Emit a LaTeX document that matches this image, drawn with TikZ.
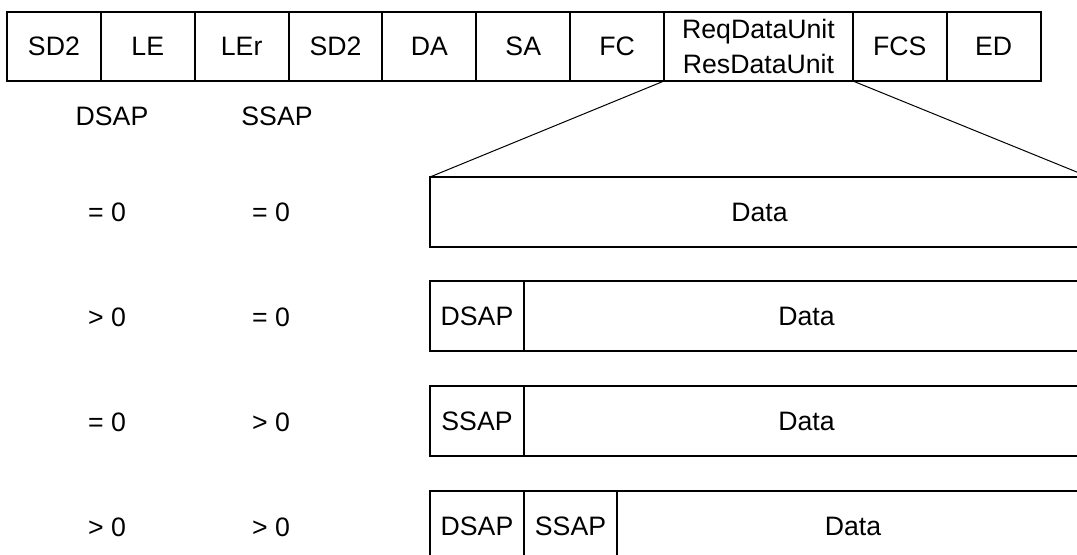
\documentclass[tikz,border=0pt]{standalone}
\usepackage{fontspec}
\setmainfont{Liberation Sans}
\usetikzlibrary{positioning}

\begin{document}
\begin{tikzpicture}[x=0.75pt, y=-0.75pt,
  fld/.style={rectangle, draw=black, line width=1.5pt, inner sep=0pt, outer sep=0pt,
              font=\fontsize{20}{26.25}\selectfont, minimum width=#1,
              minimum height=51.75pt, align=center},
  fld/.default=70.4pt,
  pdu/.style={rectangle, draw=black, line width=1.5pt, inner sep=0pt, outer sep=0pt,
              font=\fontsize{20}{24}\selectfont, minimum width=#1,
              minimum height=52.5pt},
  lb/.style={font=\fontsize{20}{24}\selectfont},
  zoomline/.style={line width=0.75pt}
]

\useasboundingbox (0,0) rectangle (1077,555);
\clip (0,0) rectangle (1077,555);

% frame fields
\node[fld, anchor=north west] (sda) at (7,12) {SD2};
\node[fld, right=0pt of sda]   (le)    {LE};
\node[fld, right=0pt of le]    (ler)   {LEr};
\node[fld, right=0pt of ler]   (sdb)   {SD2};
\node[fld, right=0pt of sdb]   (da)    {DA};
\node[fld, right=0pt of da]    (sa)    {SA};
\node[fld, right=0pt of sa]    (fc)    {FC};
\node[fld=141.6pt, right=0pt of fc] (dunit) {ReqDataUnit\\ResDataUnit};
\node[fld, right=0pt of dunit] (fcs)   {FCS};
\node[fld, right=0pt of fcs]   (ed)    {ED};

% data unit layouts
\node[pdu=494.25pt, anchor=north west] (data1) at (430,177) {Data};

\node[pdu=70.5pt, anchor=north west] (dsap2) at (430,281) {DSAP};
\node[pdu=423.75pt, right=0pt of dsap2] (data2) {Data};

\node[pdu=70.5pt, anchor=north west] (ssap3) at (430,386) {SSAP};
\node[pdu=423.75pt, right=0pt of ssap3] (data3) {Data};

\node[pdu=70.5pt, anchor=north west] (dsap4) at (430,491) {DSAP};
\node[pdu=69.75pt, right=0pt of dsap4] (ssap4) {SSAP};
\node[pdu=354pt, right=0pt of ssap4]   (data4) {Data};

\draw[zoomline] (dunit.south west) -- (data1.north west);
\draw[zoomline] (dunit.south east) -- (data1.north east);

% address columns
\node[lb] (hdsap) at (112,116) {DSAP};
\node[lb] (hssap) at (277,116) {SSAP};

\foreach \d/\s [count=\i] in {= 0/= 0, > 0/= 0, = 0/> 0, > 0/> 0} {
  \node[lb] (dv\i) at (107,107+105*\i) {\d};
  \node[lb] (sv\i) at (271,107+105*\i) {\s};
}

\end{tikzpicture}
\end{document}
